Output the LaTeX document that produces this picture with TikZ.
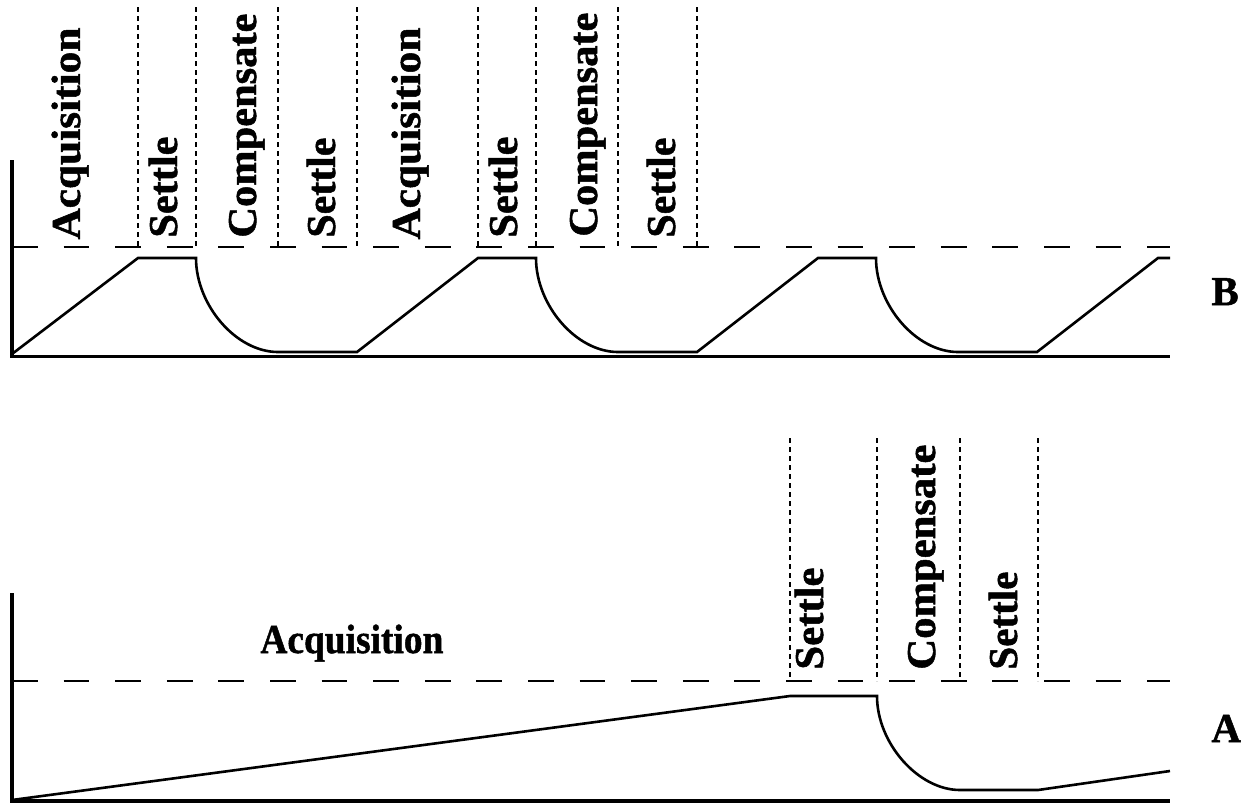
\documentclass[tikz,border=0pt]{standalone}
\usepackage{fontspec}
\setmainfont[BoldFeatures={FakeBold=1.2}]{Liberation Serif}
\usepackage{graphicx}
% one drawing unit of the picture
\newlength\pxu
\setlength\pxu{0.5pt}
% stretch a label along its baseline to a given length, keeping its height
\newcommand\fitlabel[2]{\resizebox{#1\pxu}{\height}{#2}}

\begin{document}
\begin{tikzpicture}[x=0.5pt,y=-0.5pt,
  axisline/.style={line width=1.9pt, line join=miter},
  wave/.style={line width=1.3pt, line join=miter},
  levelline/.style={line width=1.4pt, dash pattern=on 12.9pt off 12.9pt},
  phaseline/.style={line width=1.2pt, dash pattern=on 2.5pt off 2pt},
  phaselabel/.style={font=\bfseries\fontsize{20.5}{24}\selectfont, rotate=90,
    anchor=base west, inner sep=0pt},
  flatlabel/.style={font=\bfseries\fontsize{20.5}{24}\selectfont,
    anchor=base west, inner sep=0pt}]
\useasboundingbox (0,0) rectangle (1244,805);

% ---------------- fast cycle (B) ----------------
\draw[levelline] (12,247) -- (1170,247);
\foreach \x in {138,196,278,357,478,536,618,697}
  \draw[phaseline] (\x,7) -- (\x,247);
\draw[wave] (12,354) -- (138,258) -- (196,258)
  .. controls (196,305) and (236,352) .. (278,352) -- (357,352)
  -- (478,258) -- (536,258)
  .. controls (536,305) and (576,352) .. (618,352) -- (697,352)
  -- (818,258) -- (876,258)
  .. controls (876,305) and (916,352) .. (958,352) -- (1037,352)
  -- (1158,258) -- (1170,258);
\draw[axisline] (12,160) -- (12,356.5) -- (1170,356.5);

\node[phaselabel] (bacq1) at (80,240)  {\fitlabel{212}{Acquisition}};
\node[phaselabel] (bset1) at (177,238) {\fitlabel{101}{Settle}};
\node[phaselabel] (bcom1) at (256,238) {\fitlabel{224}{Compensate}};
\node[phaselabel] (bset2) at (335,238) {\fitlabel{100}{Settle}};
\node[phaselabel] (bacq2) at (420,240) {\fitlabel{212}{Acquisition}};
\node[phaselabel] (bset3) at (517,238) {\fitlabel{101}{Settle}};
\node[phaselabel] (bcom2) at (597,237) {\fitlabel{224}{Compensate}};
\node[phaselabel] (bset4) at (675,238) {\fitlabel{100}{Settle}};
\node[flatlabel] (blab) at (1211,305) {B};

% ---------------- slow cycle (A) ----------------
\draw[levelline] (12,681) -- (1170,681);
\foreach \x in {790,877,960,1038}
  \draw[phaseline] (\x,438) -- (\x,681);
\draw[wave] (12,800) -- (790,696) -- (877,696)
  .. controls (877,743) and (918,790) .. (960,790) -- (1038,790)
  -- (1170,771);
\draw[axisline] (12,593) -- (12,801) -- (1170,801);

\node[flatlabel] (aacq) at (260,653) {\fitlabel{183}{Acquisition}};
\node[phaselabel] (aset1) at (823,670) {\fitlabel{102}{Settle}};
\node[phaselabel] (acom) at (935,670) {\fitlabel{225}{Compensate}};
\node[phaselabel] (aset2) at (1017,670) {\fitlabel{98}{Settle}};
\node[flatlabel] (alab) at (1211,742) {A};
\end{tikzpicture}
\end{document}
